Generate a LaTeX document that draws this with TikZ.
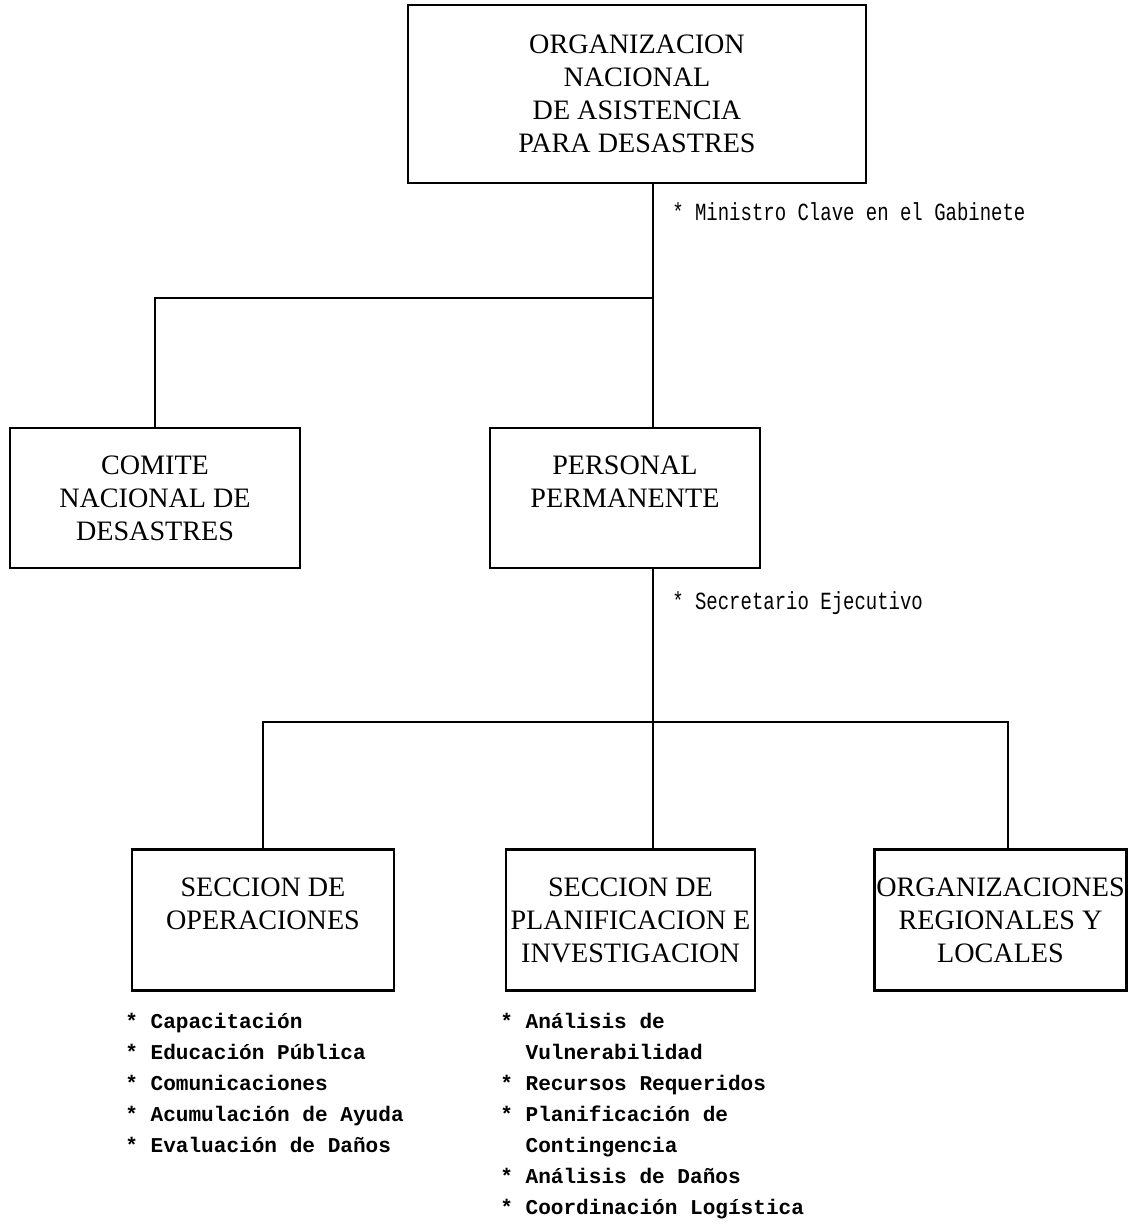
\documentclass[tikz,border=0pt]{standalone}
\usepackage{fontspec}
\setmainfont{Liberation Serif}
\setmonofont{Liberation Mono}
\usetikzlibrary{positioning}

\tikzset{
  box/.style={draw, line width=1.8pt, align=center, inner sep=0pt,
    font=\fontsize{20}{23.5}\selectfont},
  note/.style={anchor=west, inner sep=0pt, font=\ttfamily\fontsize{13.5}{16}\selectfont},
  items/.style={anchor=north west, align=left, inner sep=0pt,
    font=\ttfamily\bfseries\fontsize{15}{22}\selectfont},
  link/.style={line width=1.8pt}
}
\newcommand{\ind}{\phantom{* }}

\begin{document}
\begin{tikzpicture}[x=0.025cm, y=-0.025cm]
		\useasboundingbox (0,0) rectangle (1128,1229);

		% top level
		\node[box, minimum width=11.45cm, minimum height=4.45cm] (onad) at (637,94)
			{ORGANIZACION\\NACIONAL\\DE ASISTENCIA\\PARA DESASTRES};
		\node[note] (ministro) at (672,212) {\scalebox{1}[1.3]{* Ministro Clave en el Gabinete}};

		% second level
		\node[box, minimum width=7.25cm, minimum height=3.5cm] (comite) at (155,498)
			{COMITE\\NACIONAL DE\\DESASTRES};
		\node[box, minimum width=6.75cm, minimum height=3.5cm] (personal) at (625,498)
			{PERSONAL\\PERMANENTE\\~};
		\node[note] (secretario) at (672,603) {\scalebox{1}[1.3]{* Secretario Ejecutivo}};

		% third level
		\node[box, minimum width=6.55cm, minimum height=3.525cm] (operac) at (263,920)
			{SECCION DE\\OPERACIONES\\~};
		\node[box, minimum width=6.225cm, minimum height=3.525cm] (planif) at (630.5,920)
			{SECCION DE\\PLANIFICACION E\\INVESTIGACION};
		\node[box, minimum width=6.3cm, minimum height=3.525cm] (region) at (1000.5,920)
			{ORGANIZACIONES\\REGIONALES Y\\LOCALES};

		% task lists
		\node[items] (operlist) at (125,1013)
			{* Capacitación\\* Educación Pública\\* Comunicaciones\\* Acumulación de Ayuda\\* Evaluación de Daños};
		\node[items] (planlist) at (500,1013)
			{* Análisis de\\\ind Vulnerabilidad\\* Recursos Requeridos\\* Planificación de\\\ind Contingencia\\* Análisis de Daños\\* Coordinación Logística};

		% connectors
		\coordinate (j1) at (653,298);
		\coordinate (j2) at (653,722);
		\coordinate (j3) at (1008,722);
		\draw[link] (onad.south -| j1) -- (personal.north -| j1);
		\draw[link] (j1) -| (comite.north);
		\draw[link] (personal.south -| j2) -- (planif.north -| j2);
		\draw[link] (operac.north) |- (j3) -- (region.north -| j3);
	\end{tikzpicture}
\end{document}
